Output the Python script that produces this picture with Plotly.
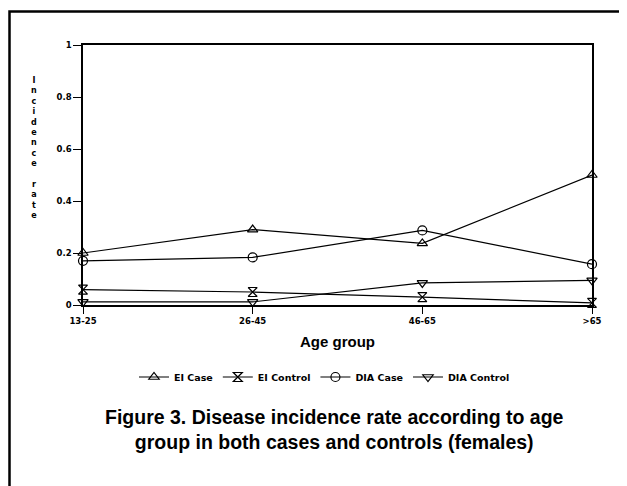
import plotly.graph_objects as go

age_groups = ["13-25", "26-45", "46-65", ">65"]
ei_case = [0.20, 0.29, 0.237, 0.50]
ei_control = [0.059, 0.05, 0.03, 0.008]
dia_case = [0.17, 0.183, 0.287, 0.157]
dia_control = [0.012, 0.012, 0.085, 0.095]

series_names = ["EI Case", "EI Control", "DIA Case", "DIA Control"]
series_values = [ei_case, ei_control, dia_case, dia_control]
symbols = ["triangle-up-open", "hourglass-open", "circle-open", "triangle-down-open"]

y_ticks = [0, 0.2, 0.4, 0.6, 0.8, 1]
y_tick_labels = ["0", "0.2", "0.4", "0.6", "0.8", "1"]

fig = go.Figure()
for name, vals, sym in zip(series_names, series_values, symbols):
    fig.add_trace(go.Scatter(
        x=age_groups, y=vals, name=name, mode="lines+markers",
        line=dict(color="black", width=1.2),
        marker=dict(symbol=sym, size=9, color="black", line=dict(color="black", width=1.2)),
        cliponaxis=False,
    ))

# page has an 8px body margin; work in screen pixels and convert
OFF = 8
W, H = 619, 478
L, R, T, B = 83 - OFF, 35, 45 - OFF, 181
pw, ph = W - L - R, H - T - B

def px(x):
    return (x - OFF - L) / pw

def py(y):
    return (H - B - (y - OFF)) / ph

BOLD = "DejaVu Sans, Liberation Sans, Arial"

fig.update_layout(
    width=W, height=H,
    margin=dict(l=L, r=R, t=T, b=B),
    paper_bgcolor="white", plot_bgcolor="white",
    font=dict(family="Liberation Sans, Arial", color="black"),
    showlegend=True,
    legend=dict(orientation="h", x=px(134), y=py(377), xanchor="left", yanchor="middle",
                font=dict(family=BOLD, size=9.5, weight="bold"), itemwidth=30, tracegroupgap=0,
                bgcolor="rgba(0,0,0,0)"),
    xaxis=dict(type="category", range=[0, 3], showgrid=False, zeroline=False,
               showline=True, linecolor="black", linewidth=1.5, mirror=True,
               ticks="outside", ticklen=7, tickcolor="black", tickwidth=1.2,
               tickfont=dict(family=BOLD, size=8.5, weight="bold"),
               title=dict(text="Age group", font=dict(size=15, weight="bold"), standoff=12)),
    yaxis=dict(range=[0, 1], tickvals=y_ticks, ticktext=y_tick_labels, showgrid=False,
               zeroline=False, showline=True, linecolor="black", linewidth=1.5, mirror=True,
               ticks="outside", ticklen=8, tickcolor="black", tickwidth=1.2,
               tickfont=dict(family=BOLD, size=8.5, weight="bold")),
)

# stacked y-axis title
ytitle = "Incidence rate"
fig.add_annotation(text="<br>".join(ch if ch != " " else "&nbsp;" for ch in ytitle),
                   xref="paper", yref="paper", x=px(34), y=py(148), showarrow=False,
                   font=dict(family=BOLD, size=8, weight="bold"), align="center",
                   xanchor="center", yanchor="middle")

# caption
fig.add_annotation(text="Figure 3. Disease incidence rate according to age<br>group in both cases and controls (females)",
                   xref="paper", yref="paper", x=px(334), y=py(429), showarrow=False,
                   font=dict(family="Liberation Sans Narrow, Liberation Sans, Arial", size=19.5, weight="bold"),
                   align="center", xanchor="center", yanchor="middle")

# outer frame
fig.add_shape(type="rect", xref="paper", yref="paper",
              x0=px(9.5), x1=px(680), y0=py(540), y1=py(11.5),
              line=dict(color="black", width=2.5), fillcolor="rgba(0,0,0,0)", layer="below")

fig.write_html("out.html")
